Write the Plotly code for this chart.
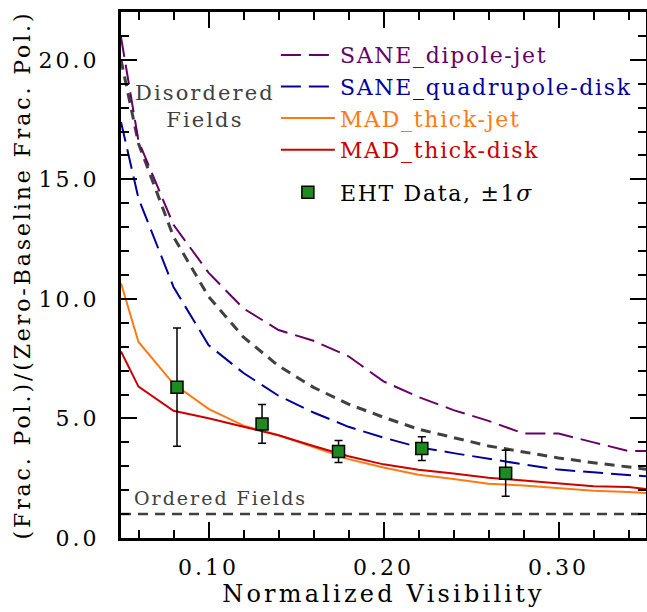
import plotly.graph_objects as go

# Model curves sampled at these normalized visibilities
vis = [0.05, 0.06, 0.08, 0.10, 0.12, 0.14, 0.16, 0.18, 0.20, 0.22, 0.24, 0.26, 0.28, 0.30, 0.32, 0.34, 0.35]

sane_dipole_jet = [20.95, 16.6, 13.1, 11.1, 9.6, 8.7, 8.25, 7.6, 6.55, 5.9, 5.35, 4.9, 4.37, 4.37, 4.0, 3.64, 3.64]
sane_quad_disk = [17.4, 14.2, 10.5, 8.07, 6.9, 5.95, 5.25, 4.65, 4.2, 3.8, 3.55, 3.3, 3.08, 2.86, 2.76, 2.64, 2.58]
mad_thick_jet = [10.65, 8.2, 6.45, 5.4, 4.7, 4.3, 3.8, 3.3, 2.95, 2.65, 2.47, 2.27, 2.2, 2.1, 1.98, 1.92, 1.88]
mad_thick_disk = [7.8, 6.33, 5.32, 5.01, 4.65, 4.3, 3.85, 3.42, 3.08, 2.85, 2.7, 2.52, 2.4, 2.27, 2.16, 2.13, 2.05]
disordered = [20.0, 16.5, 12.6, 10.1, 8.4, 7.2, 6.3, 5.6, 5.05, 4.55, 4.2, 3.85, 3.6, 3.35, 3.15, 2.95, 2.88]

ordered_x = [0.05, 0.35]
ordered_y = [1.0, 1.0]

# EHT data
eht_x = [0.082, 0.1306, 0.1743, 0.2219, 0.2698]
eht_y = [6.31, 4.77, 3.62, 3.74, 2.71]
eht_err = [2.47, 0.81, 0.46, 0.50, 0.96]

x_tickvals = [0.10, 0.20, 0.30]
x_ticktext = ["0.10", "0.20", "0.30"]
y_tickvals = [0, 5, 10, 15, 20]
y_ticktext = ["0.0", "5.0", "10.0", "15.0", "20.0"]

names = ["SANE_dipole-jet", "SANE_quadrupole-disk", "MAD_thick-jet", "MAD_thick-disk"]
colors = ["#660066", "#00009c", "#ff7a14", "#cc0000"]
FONT = "DejaVu Serif"


def ls(text, px, color=None):
    st = f"letter-spacing:{px}px"
    if color:
        st += f";color:{color}"
    return f"<span style='{st}'>{text}</span>"


fig = go.Figure()

# reference lines (no legend)
fig.add_trace(go.Scatter(x=vis, y=disordered, mode="lines", showlegend=False,
                         line=dict(color="#404040", width=3, dash="10px,7px")))
fig.add_trace(go.Scatter(x=ordered_x, y=ordered_y, mode="lines", showlegend=False,
                         xaxis="x2", yaxis="y2",
                         line=dict(color="#404040", width=2.5, dash="10px,7px")))

series = [sane_dipole_jet, sane_quad_disk, mad_thick_jet, mad_thick_disk]
dashes = ["20px,8px", "20px,8px", "solid", "solid"]
for nm, ys, c, d in zip(names, series, colors, dashes):
    fig.add_trace(go.Scatter(
        x=vis, y=ys, mode="lines",
        name=ls(nm, 1.7, c),
        legendgroup="models",
        line=dict(color=c, width=2, dash=d)))

fig.add_trace(go.Scatter(
    x=eht_x, y=eht_y, mode="markers",
    name=ls("EHT Data, ±1", 1.7) + "<i>σ</i>",
    legendgroup="data",
    marker=dict(symbol="square", size=12, color="#1f8a1f",
                line=dict(color="black", width=1.5)),
    error_y=dict(type="data", array=eht_err, visible=True,
                 color="black", thickness=1.5, width=4)))

fig.add_annotation(x=0.098, y=18.05, xref="x", yref="y",
                   text=ls("Disordered", 2.1) + "<br>" + ls("Fields", 2.1),
                   showarrow=False, font=dict(family=FONT, size=21, color="#404040"),
                   align="center")
fig.add_annotation(x=0.0565, y=1.68, xref="x", yref="y", text=ls("Ordered Fields", 2),
                   showarrow=False, xanchor="left",
                   font=dict(family=FONT, size=19, color="#404040"))

axis_common = dict(showline=True, linecolor="black", linewidth=3,
                   ticks="inside", ticklen=16, tickwidth=2, tickcolor="black",
                   showgrid=False, zeroline=False, automargin=False,
                   tickfont=dict(family=FONT, size=22, color="black"))

fig.update_layout(
    xaxis=dict(range=[0.05, 0.35], tickvals=x_tickvals,
               ticktext=[ls(t, 3) for t in x_ticktext], ticklabelstandoff=8,
               minor=dict(ticks="inside", ticklen=8, tickwidth=2, tickcolor="black",
                          dtick=0.02, tick0=0.0, showgrid=False),
               title=dict(text=ls("Normalized Visibility", 3.2),
                          font=dict(family=FONT, size=24, color="black"), standoff=5),
               **axis_common),
    yaxis=dict(range=[0, 22], tickvals=y_tickvals,
               ticktext=[ls(t, 3) for t in y_ticktext], ticklabelstandoff=14,
               minor=dict(ticks="inside", ticklen=8, tickwidth=2, tickcolor="black",
                          dtick=1, tick0=0, showgrid=False),
               title=dict(text=ls("(Frac. Pol.)/(Zero-Baseline Frac. Pol.)", 2.9),
                          font=dict(family=FONT, size=22, color="black"), standoff=2),
               **axis_common),
    xaxis2=dict(matches="x", overlaying="x", side="top", anchor="y2",
                tickvals=x_tickvals, showticklabels=False,
                minor=dict(ticks="inside", ticklen=8, tickwidth=2, tickcolor="black",
                           dtick=0.02, tick0=0.0, showgrid=False),
                **axis_common),
    yaxis2=dict(matches="y", overlaying="y", side="right", anchor="x2",
                tickvals=y_tickvals, showticklabels=False,
                minor=dict(ticks="inside", ticklen=8, tickwidth=2, tickcolor="black",
                           dtick=1, tick0=0, showgrid=False),
                **axis_common),
    width=647, height=612,
    margin=dict(l=121, r=1, t=12, b=74),
    paper_bgcolor="white", plot_bgcolor="white",
    font=dict(family=FONT, size=22, color="black"),
    legend=dict(x=0.295, y=0.958, xanchor="left", yanchor="top",
                bgcolor="rgba(0,0,0,0)", borderwidth=0,
                font=dict(family=FONT, size=22),
                tracegroupgap=11, itemwidth=54),
)

fig.write_html("out.html", config={"displayModeBar": False},
               post_script="document.body.style.margin='0';document.body.style.overflow='hidden';")
